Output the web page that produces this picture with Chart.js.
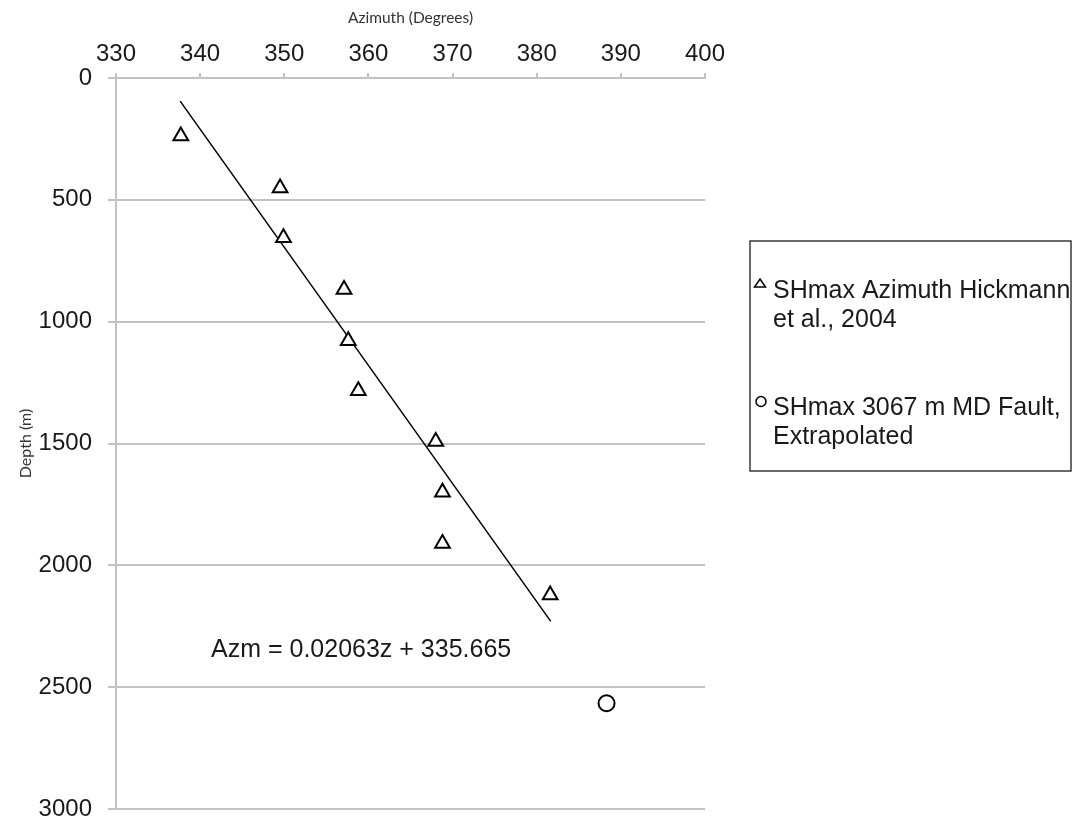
<!DOCTYPE html>
<html>
<head>
<meta charset="utf-8">
<title>SHmax azimuth vs depth</title>
<script src="https://cdn.jsdelivr.net/npm/chart.js@4.4.1/dist/chart.umd.min.js"></script>
<style>
  html, body { margin: 0; padding: 0; background: #fff; }
  #wrap { width: 1073px; height: 824px; }
</style>
</head>
<body>
<div id="wrap"><canvas id="azimuthChart" width="1073" height="824"></canvas></div>
<script>
// SHmax azimuth measurements (Hickmann et al., 2004)
const hickmannAzimuth = [337.7, 349.5, 349.9, 357.1, 357.6, 358.8, 368.0, 368.8, 368.8, 381.6];
const hickmannDepth = [238, 451, 656, 868, 1078, 1284, 1492, 1700, 1910, 2122];

// Extrapolated value at the 3067 m MD fault
const faultAzimuth = [388.3];
const faultDepth = [2566];

// Linear fit: Azm = slope * z + intercept, drawn over this depth range
const trendSlope = 0.02063;
const trendIntercept = 335.665;
const trendDepth = [95, 2230];

const azimuthTicks = [330, 340, 350, 360, 370, 380, 390, 400];
const depthTicks = [0, 500, 1000, 1500, 2000, 2500, 3000];

const legendLines = [
    ['SHmax Azimuth Hickmann', 'et al., 2004'],
    ['SHmax 3067 m MD Fault,', 'Extrapolated']
];
const equationText = 'Azm = 0.02063z + 335.665';

const toPoints = (xs, ys) => xs.map((x, i) => ({ x: x, y: ys[i] }));
const trendPoints = trendDepth.map(z => ({ x: trendSlope * z + trendIntercept, y: z }));

const gridGrey = '#c2c2c2';
const textDark = '#1a1a1a';
const sansFont = "'Liberation Sans', Arial, sans-serif";

// Boxed legend on the right and the fit equation inside the plot
const annotations = {
    id: 'annotations',
    afterDraw(chart) {
        const ctx = chart.ctx;
        ctx.save();

        // equation
        ctx.fillStyle = textDark;
        ctx.font = '25px ' + sansFont;
        ctx.textAlign = 'left';
        ctx.textBaseline = 'middle';
        ctx.fillText(equationText, 211, 650);

        // legend frame
        ctx.strokeStyle = '#3a3a3a';
        ctx.lineWidth = 1.5;
        ctx.strokeRect(750, 241, 321, 230);

        // legend markers
        ctx.strokeStyle = '#000';
        ctx.lineWidth = 1.5;
        ctx.beginPath();
        ctx.moveTo(760, 279);
        ctx.lineTo(765.5, 287);
        ctx.lineTo(754.5, 287);
        ctx.closePath();
        ctx.stroke();
        ctx.beginPath();
        ctx.arc(761, 401.5, 5, 0, Math.PI * 2);
        ctx.stroke();

        // legend text
        ctx.fillStyle = textDark;
        const rows = [[291, 320], [408, 437]];
        legendLines.forEach((lines, i) => {
            lines.forEach((line, j) => ctx.fillText(line, 773, rows[i][j]));
        });
        ctx.restore();
    }
};

new Chart(document.getElementById('azimuthChart'), {
    type: 'scatter',
    data: {
        datasets: [
            {
                label: legendLines[0].join(' '),
                data: toPoints(hickmannAzimuth, hickmannDepth),
                pointStyle: 'triangle',
                pointRadius: 8.5,
                pointHoverRadius: 8.5,
                borderColor: '#000',
                backgroundColor: '#fff',
                borderWidth: 2
            },
            {
                label: legendLines[1].join(' '),
                data: toPoints(faultAzimuth, faultDepth),
                pointStyle: 'circle',
                pointRadius: 8,
                pointHoverRadius: 8,
                borderColor: '#000',
                backgroundColor: '#fff',
                borderWidth: 2
            },
            {
                label: 'Linear fit',
                type: 'line',
                data: trendPoints,
                showLine: true,
                pointRadius: 0,
                borderColor: '#000',
                borderWidth: 1.5,
                fill: false
            }
        ]
    },
    options: {
        responsive: false,
        animation: false,
        layout: { padding: { left: 0, top: 0, right: 368, bottom: 0 } },
        plugins: {
            legend: { display: false },
            tooltip: { enabled: false }
        },
        scales: {
            x: {
                type: 'linear',
                position: 'top',
                min: 330,
                max: 400,
                afterBuildTicks: s => { s.ticks = azimuthTicks.map(v => ({ value: v })); },
                afterFit: s => { s.height = 78; },
                grid: {
                    drawOnChartArea: false,
                    drawTicks: true,
                    tickLength: 5,
                    color: gridGrey,
                    lineWidth: 2
                },
                border: { display: true, color: gridGrey, width: 2 },
                ticks: {
                    padding: 4,
                    color: textDark,
                    font: { family: sansFont, size: 24 },
                    callback: v => String(v)
                },
                title: {
                    display: true,
                    text: 'Azimuth (Degrees)',
                    color: '#333',
                    padding: { top: 9, bottom: 0 },
                    font: { family: 'Lato, sans-serif', size: 15.5 }
                }
            },
            y: {
                type: 'linear',
                position: 'left',
                reverse: true,
                min: 0,
                max: 3000,
                afterBuildTicks: s => { s.ticks = depthTicks.map(v => ({ value: v })); },
                afterFit: s => {
                    s.width = 116;
                    s.paddingTop = 0;
                    s.paddingBottom = 15;
                },
                grid: {
                    drawTicks: true,
                    tickLength: 8,
                    color: gridGrey,
                    lineWidth: 2
                },
                border: { display: true, color: gridGrey, width: 2 },
                ticks: {
                    padding: 16,
                    color: textDark,
                    font: { family: sansFont, size: 24 },
                    callback: v => String(v)
                },
                title: {
                    display: true,
                    text: 'Depth (m)',
                    color: '#333',
                    padding: { top: 16, bottom: 0 },
                    font: { family: 'Lato, sans-serif', size: 16 }
                }
            }
        }
    },
    plugins: [annotations]
});
</script>
</body>
</html>
